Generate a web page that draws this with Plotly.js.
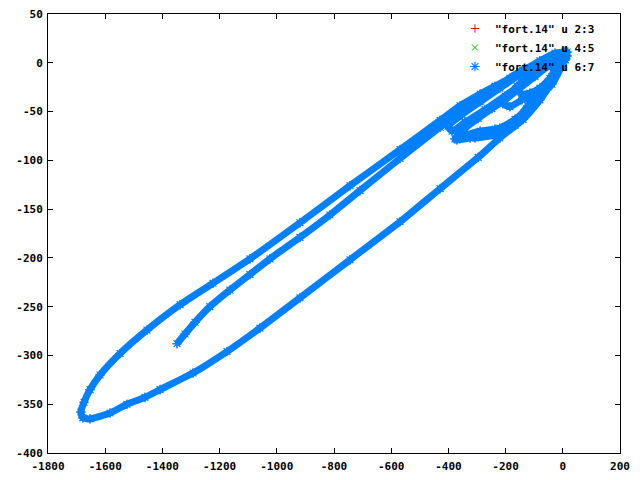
<!DOCTYPE html>
<html><head><meta charset="utf-8">
<script src="https://cdn.plot.ly/plotly-3.0.1.min.js"></script>
<style>html,body{margin:0;padding:0;background:#fff}</style>
</head><body><div id="chart" style="width:640px;height:480px"></div>
<script>
// trajectory segments (data units)
const startX = [-1349,-1321,-1286,-1234,-1164,-1094,-1024,-919,-814,-709,-569,-429,-289,-150,-45,8];
const startY = [-288,-278,-266,-250,-233,-217,-201,-179,-156,-131,-98,-66,-36,-9,5,8];
const upperX = [15,-27,-80,-132,-185,-237,-289,-359,-429,-569,-744,-919,-1094,-1223,-1338,-1454,-1548,-1618,-1653,-1674,-1685,-1678];
const upperY = [11,10,2,-7,-16,-24,-32,-44,-59,-89,-126,-164,-201,-226,-248,-274,-298,-320,-335,-348,-358,-364];
const lowerX = [-1653,-1583,-1524,-1461,-1408,-1293,-1174,-1059,-919,-744,-569,-429,-296,-220,-139,-80,-34,-3,15];
const lowerY = [-365,-359,-350,-343,-335,-318,-296,-272,-241,-202,-163,-129,-97,-77,-58,-38,-18,-2,7];
const loopBX = [8,-62,-150,-220,-289,-352,-401,-387,-342,-272,-202,-132,-62,8];
const loopBY = [12,3,-12,-26,-40,-53,-65,-70,-61,-48,-34,-19,-3,8];
const loop2X = [1,-45,-97,-150,-202,-248,-296,-342,-377,-370,-324,-272,-220,-167,-115,-62,-20,8];
const loop2Y = [6,-2,-14,-26,-38,-47,-57,-67,-78,-79,-77,-73,-67,-58,-44,-26,-9,3];
const loopCX = [1,-38,-80,-122,-160,-195,-237,-289,-338,-307,-237,-167,-115,-52,-3];
const loopCY = [1,-14,-30,-44,-58,-66,-68,-70,-74,-77,-74,-64,-48,-25,-3];
const loop3X = [8,-34,-80,-125,-160,-192,-209,-185,-143,-97,-52,-17,8];
const loop3Y = [9,5,-2,-14,-24,-34,-42,-45,-38,-30,-20,-7,3];
const loop4X = [-10,-45,-80,-115,-143,-122,-80,-38,-3];
const loop4Y = [1,-16,-26,-31,-33,-37,-33,-22,-3];
const loop5X = [8,-20,-41,-24,1];
const loop5Y = [7,3,-4,-7,1];

const seriesNames = ['"fort.14" u 2:3','"fort.14" u 4:5','"fort.14" u 6:7'];
const xTicks = [-1800,-1600,-1400,-1200,-1000,-800,-600,-400,-200,0,200];
const xTickText = ['-1800','-1600','-1400','-1200','-1000','-800','-600','-400','-200','0','200'];
const yTicks = [-400,-350,-300,-250,-200,-150,-100,-50,0,50];
const yTickText = ['-400','-350','-300','-250','-200','-150','-100','-50','0','50'];

const X = [].concat(startX, upperX, lowerX, loopBX, loop2X, loopCX, loop3X, loop4X, loop5X);
const Y = [].concat(startY, upperY, lowerY, loopBY, loop2Y, loopCY, loop3Y, loop4Y, loop5Y);

const blue = '#0080ff';
const font = {family: 'DejaVu Sans Mono, monospace', size: 11, color: '#000', weight: 'bold'};

const traces = [
  {x: X, y: Y, name: seriesNames[0], type: 'scatter', mode: 'markers',
   marker: {symbol: 'cross-thin-open', size: 6, color: '#ff0000', line: {color: '#ff0000', width: 1}}},
  {x: X, y: Y, name: seriesNames[1], type: 'scatter', mode: 'markers',
   marker: {symbol: 'x-thin-open', size: 6, color: '#00c000', line: {color: '#00c000', width: 1}}},
  {x: X, y: Y, name: seriesNames[2], type: 'scatter', mode: 'lines', showlegend: false,
   line: {color: blue, width: 7, shape: 'spline', smoothing: 0.5}, hoverinfo: 'skip'},
  {x: X, y: Y, name: seriesNames[2], type: 'scatter', mode: 'markers',
   marker: {symbol: 'asterisk-open', size: 8, color: blue, line: {color: blue, width: 1.2}}}
];

const axisCommon = {showgrid: false, zeroline: false, showline: true, linecolor: '#000', linewidth: 1,
  mirror: 'ticks', ticks: 'inside', ticklen: 5, tickcolor: '#000', tickfont: font, tickmode: 'array'};

const layout = {
  width: 640, height: 480,
  margin: {l: 48, r: 20, t: 14, b: 27},
  paper_bgcolor: '#fff', plot_bgcolor: '#fff',
  font: font,
  showlegend: true,
  legend: {x: 0.965, xanchor: 'right', y: 1, yanchor: 'top', bgcolor: 'rgba(0,0,0,0)',
    font: font, tracegroupgap: 0, itemwidth: 30},
  xaxis: Object.assign({}, axisCommon, {range: [-1800, 200], tickvals: xTicks, ticktext: xTickText, ticklabelstandoff: 3}),
  yaxis: Object.assign({}, axisCommon, {range: [-400, 50], tickvals: yTicks, ticktext: yTickText, ticklabelstandoff: 2})
};

Plotly.newPlot('chart', traces, layout, {displayModeBar: false, staticPlot: true});
</script></body></html>
